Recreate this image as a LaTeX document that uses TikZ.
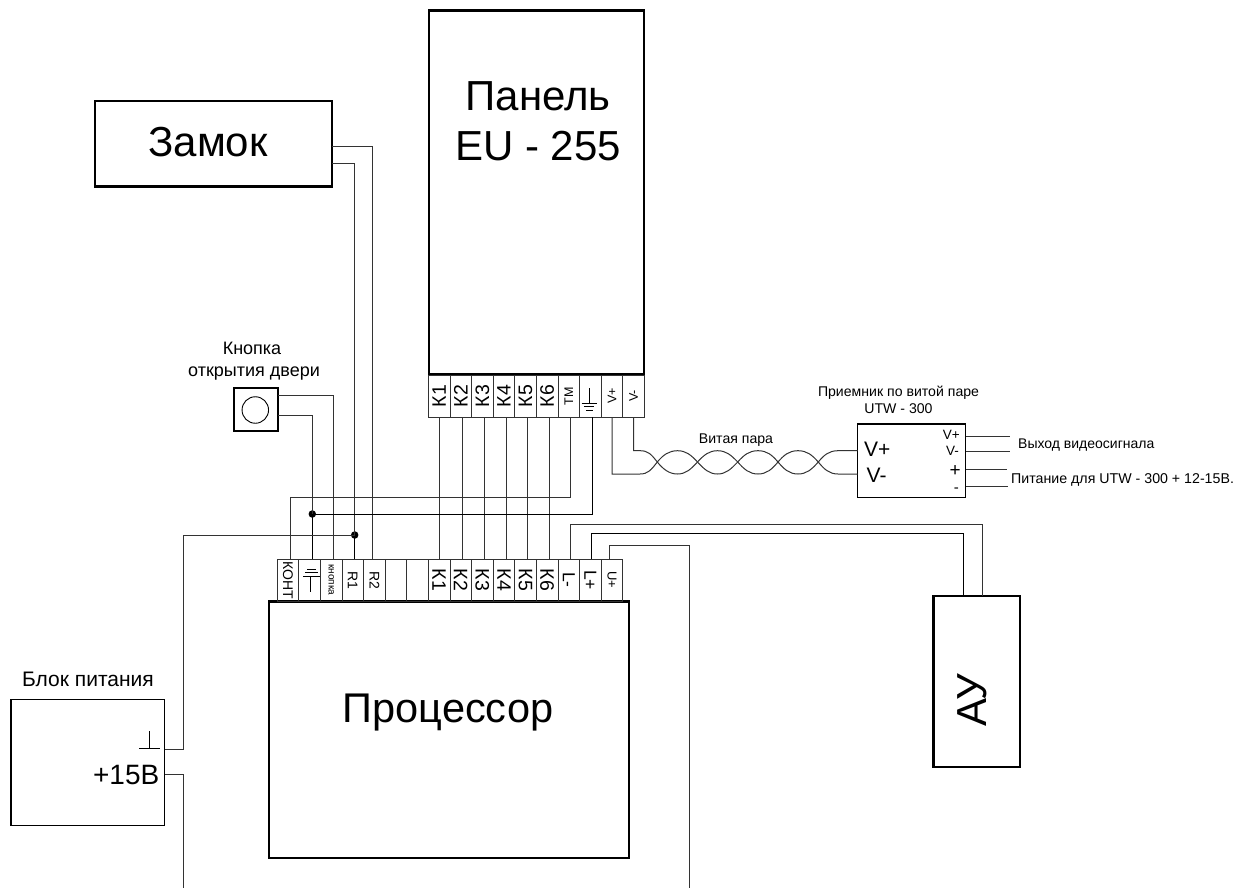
\documentclass[tikz,border=0pt]{standalone}
\usepackage{fontspec}
\setmainfont{Liberation Sans}
\begin{document}
\begin{tikzpicture}[x=1pt,y=-1pt,
  wire/.style={draw=black!80,line width=1pt},
  heavy/.style={draw=black,line width=2.6pt},
  thin box/.style={draw=black,line width=1.2pt},
  term/.style={draw=black!80,line width=0.9pt,minimum width=21.6pt,minimum height=42pt,inner sep=0pt,outer sep=0pt,anchor=north west},
  dotj/.style={circle,fill=black,minimum size=7.5pt,inner sep=0pt},
  box/.style={inner sep=0pt,outer sep=0pt,anchor=north west},
  lbl/.style={inner sep=0pt,align=center},
  baselbl/.style={inner sep=0pt,anchor=base}
]
\useasboundingbox (0,0) rectangle (1245,888);
% main boxes
\node[box,heavy,minimum width=215pt,minimum height=363.5pt] (panel) at (429,10.7) {};
\node[lbl,font=\fontsize{42}{50}\selectfont] (paneltxt) at (538,121.5) {Панель\\EU - 255};
\node[box,heavy,minimum width=237pt,minimum height=85.5pt] (lock) at (95,101) {};
\node[baselbl,font=\fontsize{42}{50}\selectfont] (locktxt) at (208,157) {Замок};
\node[box,heavy,minimum width=360pt,minimum height=256.5pt] (cpu) at (269,601.5) {};
\node[baselbl,font=\fontsize{41.5}{50}\selectfont] (cputxt) at (448,722) {Процессор};
\node[box,heavy,minimum width=86.7pt,minimum height=171pt] (au) at (933.3,596) {};
\node[baselbl,font=\fontsize{42}{50}\selectfont,rotate=90] (autxt) at (986,700) {АУ};
\node[box,thin box,minimum width=153.7pt,minimum height=126.4pt] (psu) at (11,699.3) {};
\node[baselbl,font=\fontsize{21}{25}\selectfont] (psutxt) at (88,686) {Блок питания};
\node[baselbl,anchor=base east,font=\fontsize{28}{32}\selectfont] (v15) at (159.5,784) {+15В};
\draw[line width=1pt] (139,748.5) -- (160,748.5) (149.5,731) -- (149.5,748.5);
\node[box,draw=black,line width=2.6pt,minimum width=44pt,minimum height=43pt] (btn) at (234,388) {};
\node[circle,draw=black,line width=0.9pt,minimum size=26.5pt,inner sep=0pt] (btnc) at (255.3,410) {};
\node[baselbl,font=\fontsize{18}{22}\selectfont] (btntxt1) at (252,354) {Кнопка};
\node[baselbl,font=\fontsize{18}{22}\selectfont] (btntxt2) at (254,376.7) {открытия двери};
\node[box,thin box,minimum width=108pt,minimum height=73.3pt] (utw) at (857.7,424) {};
\node[baselbl,font=\fontsize{14.1}{17}\selectfont] (utwtxt1) at (898.5,396) {Приемник по витой паре};
\node[baselbl,font=\fontsize{14.1}{17}\selectfont] (utwtxt2) at (898.5,413) {UTW - 300};
\node[baselbl,anchor=base west,font=\fontsize{21}{26}\selectfont] (uvp) at (864,456) {V+};
\node[baselbl,anchor=base west,font=\fontsize{21}{26}\selectfont] (uvm) at (866.5,482) {V-};
\node[baselbl,anchor=base east,font=\fontsize{13.5}{15}\selectfont] (ovp) at (960,439.5) {V+};
\node[baselbl,anchor=base east,font=\fontsize{13.5}{15}\selectfont] (ovm) at (959,455.5) {V-};
\node[baselbl,anchor=base east,font=\fontsize{19}{21}\selectfont] (op) at (961,476) {+};
\node[baselbl,anchor=base east,font=\fontsize{15}{17}\selectfont] (om) at (959,492) {-};
\node[baselbl,anchor=base west,font=\fontsize{14}{15}\selectfont] (vidtxt) at (1018,448) {Выход видеосигнала};
\node[baselbl,anchor=base west,font=\fontsize{14.2}{15}\selectfont] (pwrtxt) at (1011,483) {Питание для UTW - 300 + 12-15В.};
\node[baselbl,font=\fontsize{14.1}{15}\selectfont] (twisttxt) at (736,443) {Витая пара};
% top terminals
\foreach \n/\x/\t/\s in {a1/428.4/К1/19.5,a2/450/К2/19.5,a3/471.6/К3/19.5,a4/493.2/К4/19.5,a5/514.8/К5/19.5,a6/536.4/К6/19.5,a7/558/ТМ/12.5,a8/579.6//13,a9/601.2/V+/12.5,a10/622.8/V-/12.5}{
  \node[term] (\n) at (\x,375) {};
  \node[rotate=90,inner sep=0pt,font=\fontsize{\s}{\s}\selectfont] at (\n.center) {\t};
}
% bottom terminals
\foreach \n/\x/\t/\s in {b1/277.2/КОНТ/14/1,b2/298.8//13/0,b3/320.4/кнопка/10/0,b4/342/R1/14/0,b5/363.6/R2/14/0,b6/385.2//13/0,b7/406.8//13/0,b8/428.4/К1/19.5/0,b9/450/К2/19.5/0,b10/471.6/К3/19.5/0,b11/493.2/К4/19.5/0,b12/514.8/К5/19.5/0,b13/536.4/К6/19.5/0,b14/558/L-/17.5/0,b15/579.6/L+/17.5/0,b16/601.2/U+/13/0}{
  \node[term] (\n) at (\x,559) {};
  \node[rotate=-90,inner sep=0pt,font=\fontsize{\s}{\s}\selectfont] at (\n.center) {\t};
}
% ground symbols
\draw[line width=1pt] (589.3,388) -- (589.3,403.5) (581.7,403.5) -- (596.7,403.5) (584,406.8) -- (594.3,406.8) (585.9,410) -- (592.7,410);
\draw[line width=1pt] (307.3,569) -- (316,569) (305,572.7) -- (318.3,572.7) (303.3,576.5) -- (320,576.5) (310.7,576.5) -- (310.7,591.7);
% straight wires
\draw[wire] (a1.south) -- (b8.north);
\foreach \i/\j in {a2/b9,a3/b10,a4/b11,a5/b12,a6/b13}{ \draw[wire] ([xshift=2pt]\i.south) -- ([xshift=2pt]\j.north); }
% junctions and free ends
\node[dotj] (d1) at (312.3,514) {};
\node[dotj] (d2) at (354.7,535) {};
\coordinate (lockA) at (332,146.7);
\coordinate (lockB) at (332,163.5);
\coordinate (btnA) at (278,395.7);
\coordinate (btnB) at (278,415.5);
\coordinate (psuG) at (164.7,749.3);
\coordinate (psuV) at (164.7,774.7);
\coordinate (busL) at (183,535);
\coordinate (botL) at (183,888);
\coordinate (botR) at (689,888);
\coordinate (auA) at (982.5,596);
\coordinate (auB) at (963.5,596);
% wires
\draw[wire] (lockA) -| ([xshift=-1.7pt]b5.north);
\draw[wire] (lockB) -- (d2 |- lockB) -- (d2.center);
\draw[wire,draw=black,line width=1.3pt] (d2.center) -- (d2 |- b4.north);
\draw[wire] (btnA) -| ([xshift=2.3pt]b3.north);
\draw[wire] (btnB) -- (d1 |- btnB) -- (d1.center);
\draw[wire,draw=black,line width=1.3pt] (d1.center) -- (d1 |- b2.north);
\draw[wire] ([xshift=2.3pt]b1.north) |- (570,497.5) -- ([xshift=1.2pt]a7.south);
\draw[wire,draw=black] (d1.center) -| ([xshift=2pt]a8.south);
\draw[wire] (psuG) -| (busL) -- (d2.center);
\draw[wire] (psuV) -| (botL);
\draw[wire] ([xshift=1.2pt]b14.north) |- (auA |- 0,524) -- (auA);
\draw[wire,draw=black] ([xshift=1.5pt]b15.north) |- (auB |- 0,533.3) -- (auB);
\draw[wire] ([xshift=-3pt]b16.north) |- (botR |- 0,545) -- (botR);
% twisted pair
\draw[wire] (a10.south) |- (640,450.7) .. controls (648,450.7) and (651,454) .. (657.3,462) .. controls (663,469) and (669,474) .. (677.5,474) .. controls (686,474) and (691,469) .. (697.5,462) .. controls (704,455) and (709,450.7) .. (717.5,450.7) .. controls (726,450.7) and (731,455) .. (737.7,462) .. controls (744,469) and (749,474) .. (758,474) .. controls (767,474) and (772,469) .. (778,462) .. controls (784,455) and (789,450.7) .. (798,450.7) .. controls (807,450.7) and (812,455) .. (818.3,462) .. controls (824,469) and (829,474) .. (838,474) -- (857.7,474);
\draw[wire] (a9.south) |- (640,474) .. controls (648,474) and (651,470) .. (657.3,462) .. controls (663,455) and (669,450.7) .. (677.5,450.7) .. controls (686,450.7) and (691,455) .. (697.5,462) .. controls (704,469) and (709,474) .. (717.5,474) .. controls (726,474) and (731,469) .. (737.7,462) .. controls (744,455) and (749,450.7) .. (758,450.7) .. controls (767,450.7) and (772,455) .. (778,462) .. controls (784,469) and (789,474) .. (798,474) .. controls (807,474) and (812,469) .. (818.3,462) .. controls (824,455) and (829,450.7) .. (838,450.7) -- (857.7,450.7);
% outputs
\coordinate (o1) at (1010,436);
\coordinate (o2) at (1010,451.3);
\coordinate (o3) at (1006.7,469.3);
\coordinate (o4) at (1007.7,486);
\draw[wire] (utw.east |- o1) -- (o1);
\draw[wire] (utw.east |- o2) -- (o2);
\draw[wire] (utw.east |- o3) -- (o3);
\draw[wire] (utw.east |- o4) -- (o4);
\end{tikzpicture}
\end{document}
